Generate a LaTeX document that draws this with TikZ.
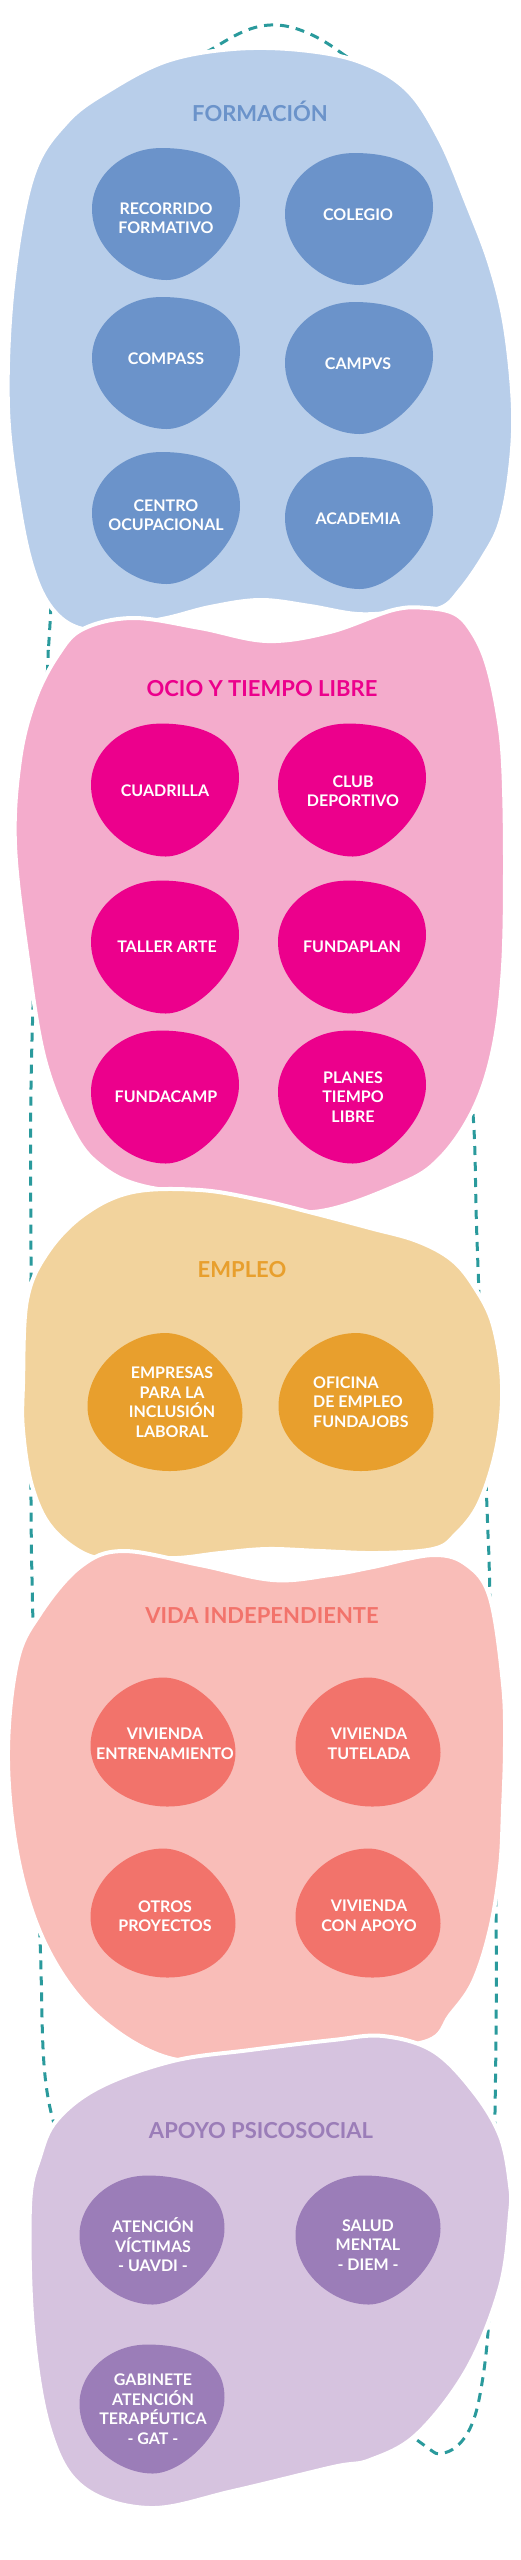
\documentclass[tikz,border=0pt]{standalone}
\usepackage{fontspec}
\setmainfont{Lato}
\definecolor{bBig}{HTML}{B8CEEA}
\definecolor{bIn}{HTML}{6B93CA}
\definecolor{pBig}{HTML}{F4ACCC}
\definecolor{pIn}{HTML}{EC008C}
\definecolor{eBig}{HTML}{F2D39D}
\definecolor{eIn}{HTML}{E89F2D}
\definecolor{vBig}{HTML}{F9BDB8}
\definecolor{vIn}{HTML}{F2736B}
\definecolor{aBig}{HTML}{D6C3DF}
\definecolor{aIn}{HTML}{9B7DB8}
\definecolor{loopc}{HTML}{2A9A9C}
\tikzset{
  big/.style={draw=white, line width=4pt, line join=round},
  lbl/.style={text=white, font=\fontsize{16}{19.5}\selectfont\bfseries, align=center, inner sep=0pt},
  ttl/.style={font=\fontsize{22}{26}\selectfont\bfseries, inner sep=0pt, anchor=base},
  loopline/.style={draw=loopc, line width=3pt, dash pattern=on 9pt off 7pt},
}
\newcommand{\blobA}[5]{\path[fill=#3, shift={(#1,#2)}, xscale=#4, yscale=#5] (-0.07,-1) .. controls (0.54,-1) and (1,-0.76) .. (1,-0.18) .. controls (1,0.38) and (0.41,1) .. (0.01,1) .. controls (-0.47,1) and (-1,0.53) .. (-1,-0.08) .. controls (-1,-0.58) and (-0.57,-1) .. cycle;}
\newcommand{\blobB}[5]{\path[fill=#3, shift={(#1,#2)}, xscale=#4, yscale=#5] (0,-1) .. controls (0.45,-1) and (1,-0.4) .. (1,0.16) .. controls (1,0.65) and (0.6,1) .. (0.06,1) .. controls (-0.5,1) and (-1,0.6) .. (-1,0.06) .. controls (-1,-0.5) and (-0.5,-1) .. cycle;}
\begin{document}
\begin{tikzpicture}[x=1pt, y=-1pt]
\useasboundingbox (0,0) rectangle (520,2560);
% dashed loop behind everything
\draw[loopline] plot[smooth cycle, tension=0.6] coordinates {(277,25) (340,52) (390,110) (415,300) (420,600) (450,900) (472,1100) (477,1240) (487,1508) (490,1600) (496,1908) (495,2112) (490,2300) (481,2389) (467,2434) (443,2453) (417,2440) (300,2350) (120,2230) (53,2120) (40,1939) (33,1625) (31,1500) (31,1278) (32,1040) (47,682) (50,624) (70,300) (140,110) (217,46)};
% big blobs
\path[big, fill=bBig] plot[smooth cycle, tension=0.6] coordinates {(233,49) (300,50) (360,62) (407,90) (440,140) (467,204) (490,265) (505,327) (513,408) (510,470) (500,523) (483,557) (460,590) (440,608) (400,612) (357,614) (310,606) (260,600) (210,607) (167,618) (120,626) (83,629) (55,612) (35,575) (20,510) (8,408) (13,286) (33,176) (67,122) (110,90) (167,61)};
\path[big, fill=pBig] plot[smooth cycle, tension=0.6] coordinates {(83,629) (133,618) (200,628) (267,641) (330,632) (393,610) (427,608) (455,614) (472,632) (486,662) (497,710) (503,763) (505,860) (503,967) (493,1049) (473,1110) (440,1158) (400,1184) (313,1212) (230,1198) (143,1186) (100,1165) (73,1131) (45,1060) (28,960) (15,845) (20,760) (35,700) (58,655)};
\path[big, fill=eBig] plot[smooth cycle, tension=0.6] coordinates {(133,1192) (200,1190) (260,1200) (313,1213) (370,1228) (417,1241) (452,1260) (475,1288) (493,1325) (502,1384) (497,1445) (479,1503) (455,1535) (433,1549) (377,1553) (320,1551) (267,1549) (220,1553) (177,1558) (130,1557) (90,1556) (52,1528) (32,1486) (23,1430) (23,1384) (27,1300) (48,1252) (85,1214)};
\path[big, fill=vBig] plot[smooth cycle, tension=0.6] coordinates {(123,1551) (200,1565) (273,1580) (330,1575) (373,1567) (433,1555) (467,1565) (490,1598) (503,1684) (505,1745) (503,1810) (500,1867) (490,1929) (473,1982) (450,2015) (427,2041) (350,2050) (260,2056) (173,2059) (100,2018) (50,1953) (20,1867) (8,1761) (17,1663) (40,1614) (80,1567)};
\path[big, fill=aBig] plot[smooth cycle, tension=0.6] coordinates {(57,2120) (100,2087) (173,2061) (250,2050) (333,2040) (383,2036) (433,2051) (473,2091) (500,2136) (510,2185) (510,2214) (500,2287) (467,2369) (417,2434) (370,2460) (333,2467) (233,2491) (150,2508) (83,2487) (50,2430) (33,2328) (30,2206) (40,2157)};
% titles
\node[ttl, text=bIn] (tForm) at (260,121.5) {FORMACIÓN};
\node[ttl, text=pIn] (tOcio) at (262,696) {OCIO Y TIEMPO LIBRE};
\node[ttl, text=eIn] (tEmp) at (242,1277) {EMPLEO};
\node[ttl, text=vIn] (tVida) at (262,1623) {VIDA INDEPENDIENTE};
\node[ttl, text=aIn] (tApo) at (261,2138) {APOYO PSICOSOCIAL};
% formacion
\blobA{166}{214}{bIn}{74}{66}
\blobA{359}{219}{bIn}{74}{66}
\blobA{166}{363}{bIn}{74}{66}
\blobA{359}{368}{bIn}{74}{66}
\blobA{166}{518}{bIn}{74}{66}
\blobA{359}{523}{bIn}{74}{66}
\node[lbl] (f1) at (166,218) {RECORRIDO\\FORMATIVO};
\node[lbl] (f2) at (358,215) {COLEGIO};
\node[lbl] (f3) at (166,359) {COMPASS};
\node[lbl] (f4) at (358,364) {CAMPVS};
\node[lbl] (f5) at (166,515) {CENTRO\\OCUPACIONAL};
\node[lbl] (f6) at (358,519) {ACADEMIA};
% ocio
\blobA{165}{790}{pIn}{74}{66.5}
\blobA{352}{790}{pIn}{74}{66.5}
\blobA{165}{947}{pIn}{74}{66.5}
\blobA{352}{947}{pIn}{74}{66.5}
\blobA{165}{1097}{pIn}{74}{66.5}
\blobA{352}{1097}{pIn}{74}{66.5}
\node[lbl] (o1) at (165,791) {CUADRILLA};
\node[lbl] (o2) at (353,791) {CLUB\\DEPORTIVO};
\node[lbl] (o3) at (167,947) {TALLER ARTE};
\node[lbl] (o4) at (352,947) {FUNDAPLAN};
\node[lbl] (o5) at (166,1097) {FUNDACAMP};
\node[lbl] (o6) at (353,1097) {PLANES\\TIEMPO\\LIBRE};
% empleo
\blobB{165}{1402}{eIn}{77.5}{69}
\blobB{356}{1402}{eIn}{77.5}{69}
\node[lbl] (e1) at (172,1402) {EMPRESAS\\PARA LA\\INCLUSIÓN\\LABORAL};
\node[lbl, align=left, anchor=west] (e2) at (313,1402) {OFICINA\\DE EMPLEO\\FUNDAJOBS};
% vida
\blobB{163}{1742}{vIn}{72.5}{64.5}
\blobB{368}{1742}{vIn}{72.5}{64.5}
\blobB{163}{1913}{vIn}{72.5}{64.5}
\blobB{368}{1913}{vIn}{72.5}{64.5}
\node[lbl] (v1) at (165,1744) {VIVIENDA\\ENTRENAMIENTO};
\node[lbl] (v2) at (369,1744) {VIVIENDA\\TUTELADA};
\node[lbl] (v3) at (165,1916) {OTROS\\PROYECTOS};
\node[lbl] (v4) at (369,1916) {VIVIENDA\\CON APOYO};
% apoyo
\blobA{152}{2240}{aIn}{72.5}{64.5}
\blobA{368}{2240}{aIn}{72.5}{64.5}
\blobA{152}{2409}{aIn}{72.5}{64.5}
\node[lbl] (a1) at (153,2245) {ATENCIÓN\\VÍCTIMAS\\- UAVDI -};
\node[lbl] (a2) at (368,2245) {SALUD\\MENTAL\\- DIEM -};
\node[lbl] (a3) at (153,2409) {GABINETE\\ATENCIÓN\\TERAPÉUTICA\\- GAT -};
\end{tikzpicture}
\end{document}
